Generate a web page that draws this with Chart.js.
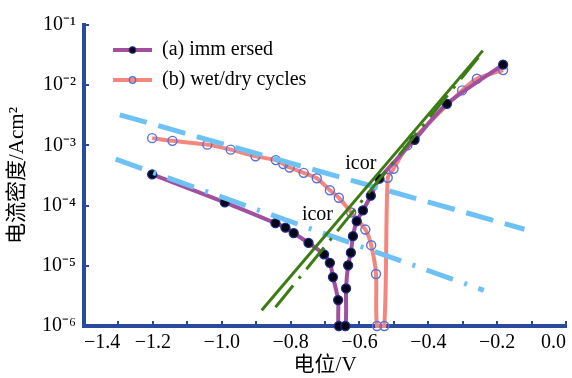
<!DOCTYPE html>
<html>
<head>
<meta charset="utf-8">
<script src="https://cdn.jsdelivr.net/npm/chart.js@4.4.1/dist/chart.umd.min.js"></script>
<style>
html,body{margin:0;padding:0;background:#fff;}
</style>
</head>
<body>
<canvas id="c" width="572" height="378"></canvas>
<script>
// ---- data ----
const seriesNames = ['(a) imm ersed', '(b) wet/dry cycles'];

const immersedV = [-1.202,-0.991,-0.844,-0.815,-0.791,-0.748,-0.703,-0.686,-0.677,-0.662,-0.660,-0.641,-0.639,-0.633,-0.625,-0.619,-0.608,-0.590,-0.567,-0.542,-0.440,-0.346,-0.183];
const immersedI = [3.3e-4,1.13e-4,5.1e-5,4.3e-5,3.5e-5,2.4e-5,1.55e-5,1.12e-5,6.5e-6,2.7e-6,1.0e-6,1.0e-6,4.2e-6,1.02e-5,1.65e-5,3.1e-5,5.5e-5,8.3e-5,1.46e-4,2.8e-4,1.24e-3,4.9e-3,2.2e-2];

const wetDryV = [-1.202,-1.143,-1.042,-0.974,-0.902,-0.843,-0.821,-0.803,-0.762,-0.724,-0.686,-0.660,-0.624,-0.583,-0.566,-0.552,-0.549,-0.528,-0.518,-0.501,-0.461,-0.440,-0.302,-0.259,-0.183];
const wetDryI = [1.32e-3,1.19e-3,1.03e-3,8.5e-4,6.6e-4,5.7e-4,4.9e-4,4.3e-4,3.5e-4,2.85e-4,1.8e-4,1.35e-4,7.7e-5,4.0e-5,2.2e-5,7.3e-6,1.0e-6,1.0e-6,2.9e-4,4.1e-4,1.0e-3,1.35e-3,8.2e-3,1.28e-2,1.78e-2];

// Tafel fit lines (end points)
const cathodicDashV = [-1.296, -0.121];
const cathodicDashI = [3.22e-3, 4.05e-5];
const cathodicDashDotV = [-1.308, -0.239];
const cathodicDashDotI = [5.9e-4, 3.9e-6];
const anodicSolidV = [-0.884, -0.242];
const anodicSolidI = [1.83e-6, 3.75e-2];
const anodicDashDotV = [-0.844, -0.253];
const anodicDashDotI = [2.05e-6, 2.98e-2];

// annotations
const annotText = ['icor', 'icor'];
const annotV = [-0.596, -0.722];
const annotI = [5.0e-4, 7.1e-5];

// ticks
const xTickLabels = ['\u22121.4','','\u22121.2','','\u22121.0','','\u22120.8','','\u22120.6','','\u22120.4','','\u22120.2','','0.0'];
const yTickValues = [1e-6,1e-5,1e-4,1e-3,1e-2,1e-1];
const yTickLabels = ['10\u207B\u2076','10\u207B\u2075','10\u207B\u2074','10\u207B\u00B3','10\u207B\u00B2','10\u207B\u00B9'];

// ---- styling ----
const FONT = "'Liberation Serif', 'Noto Sans CJK SC', serif";
const axisColor = '#2a4b9d';
const purple = '#a0509f';
const salmon = '#f4877d';
const ringBlue = '#5a70d8';
const dotFill = '#06061a';
const dotEdge = '#1c2a80';
const skyBlue = '#6ec1f5';
const green = '#3d7b14';

const toXY = (xs, ys) => xs.map((v, i) => ({x: v, y: ys[i]}));

function makeIcon(lineColor, fill, stroke, lw) {
  const c = document.createElement('canvas');
  c.width = 58; c.height = 14;
  const g = c.getContext('2d');
  g.strokeStyle = lineColor; g.lineWidth = 4;
  g.beginPath(); g.moveTo(19, 7); g.lineTo(58, 7); g.stroke();
  g.beginPath(); g.arc(38.5, 7, 3.2, 0, Math.PI * 2);
  if (fill) { g.fillStyle = fill; g.fill(); }
  g.lineWidth = lw; g.strokeStyle = stroke; g.stroke();
  return c;
}
const iconA = makeIcon(purple, dotFill, dotEdge, 1.2);
const iconB = makeIcon(salmon, null, ringBlue, 1.4);

const annotPlugin = {
  id: 'icorLabels',
  afterDatasetsDraw(chart) {
    const {ctx, scales: {x, y}} = chart;
    ctx.save();
    ctx.font = '20px ' + FONT;
    ctx.fillStyle = '#000';
    ctx.textAlign = 'center';
    ctx.textBaseline = 'middle';
    annotText.forEach((t, i) => ctx.fillText(t, x.getPixelForValue(annotV[i]), y.getPixelForValue(annotI[i])));
    ctx.restore();
  }
};
const legendShift = {
  id: 'legendShift',
  afterLayout(chart) {
    const l = chart.legend;
    if (l) { l.top = chart.chartArea.top + 5; l.bottom = l.top + l.height; }
  }
};

const curveClip = {left: 10, top: 10, right: 10, bottom: 6};

new Chart(document.getElementById('c'), {
  type: 'line',
  data: {
    datasets: [
      {label: 'anodic fit', data: toXY(anodicSolidV, anodicSolidI), borderColor: green, borderWidth: 3, pointRadius: 0, tension: 0, order: 0},
      {label: 'anodic fit 2', data: toXY(anodicDashDotV, anodicDashDotI), borderColor: green, borderWidth: 3, borderDash: [28, 9, 3, 9], pointRadius: 0, tension: 0, order: 0},
      {label: 'cathodic fit', data: toXY(cathodicDashV, cathodicDashI), borderColor: skyBlue, borderWidth: 5, borderDash: [28, 12], pointRadius: 0, tension: 0, order: 1},
      {label: 'cathodic fit 2', data: toXY(cathodicDashDotV, cathodicDashDotI), borderColor: skyBlue, borderWidth: 5, borderDash: [28, 12, 3, 12], pointRadius: 0, tension: 0, order: 1},
      {label: seriesNames[0], data: toXY(immersedV, immersedI), borderColor: purple, borderWidth: 4, tension: 0.25,
        pointRadius: 4.5, pointBackgroundColor: dotFill, pointBorderColor: dotEdge, pointBorderWidth: 1.3, clip: curveClip, order: 2},
      {label: seriesNames[1], data: toXY(wetDryV, wetDryI), borderColor: salmon, borderWidth: 4, tension: 0.25,
        pointRadius: 4.5, pointBackgroundColor: 'rgba(0,0,0,0)', pointBorderColor: ringBlue, pointBorderWidth: 1.4, clip: curveClip, order: 3}
    ]
  },
  options: {
    responsive: false,
    animation: false,
    layout: {padding: {top: 21, right: 2, bottom: 0, left: 0}},
    plugins: {
      tooltip: {enabled: false},
      legend: {
        position: 'chartArea',
        align: 'start',
        onClick: null,
        labels: {
          usePointStyle: true,
          pointStyleWidth: 58,
          padding: 10,
          color: '#000',
          font: {family: FONT, size: 20},
          generateLabels: () => [
            {text: seriesNames[0], pointStyle: iconA, fillStyle: 'rgba(0,0,0,0)', strokeStyle: 'rgba(0,0,0,0)', lineWidth: 0, hidden: false, datasetIndex: 4},
            {text: seriesNames[1], pointStyle: iconB, fillStyle: 'rgba(0,0,0,0)', strokeStyle: 'rgba(0,0,0,0)', lineWidth: 0, hidden: false, datasetIndex: 5}
          ]
        }
      }
    },
    scales: {
      x: {
        type: 'linear',
        min: -1.4,
        max: 0,
        ticks: {
          stepSize: 0.1, autoSkip: false, maxRotation: 0, align: 'inner', padding: 10,
          color: '#000', font: {family: FONT, size: 20},
          callback: (v, i) => xTickLabels[i]
        },
        grid: {drawOnChartArea: false, drawTicks: true, tickLength: -5, color: axisColor, lineWidth: 2},
        border: {display: true, color: axisColor, width: 4},
        title: {display: true, text: '电位/V', color: '#000', font: {family: FONT, size: 21}, padding: {top: 0, bottom: 0}},
        afterFit: s => { s.height = 52; s.paddingLeft = 0; s.paddingRight = 0; }
      },
      y: {
        type: 'logarithmic',
        min: 1e-6,
        max: 1e-1,
        afterBuildTicks: s => { s.ticks = yTickValues.map(v => ({value: v})); },
        ticks: {
          autoSkip: false, padding: 13, color: '#000', font: {family: FONT, size: 20},
          callback: v => yTickLabels[yTickValues.findIndex(t => Math.abs(Math.log10(t) - Math.log10(v)) < 1e-6)]
        },
        grid: {drawOnChartArea: false, drawTicks: true, tickLength: -5, color: axisColor, lineWidth: 2},
        border: {display: true, color: axisColor, width: 4},
        title: {display: true, text: '电流密度/Acm²', color: '#000', font: {family: FONT, size: 21}, padding: {top: 5, bottom: 0}},
        afterFit: s => { s.width = 84; }
      }
    }
  },
  plugins: [annotPlugin, legendShift]
});
</script>
</body>
</html>
